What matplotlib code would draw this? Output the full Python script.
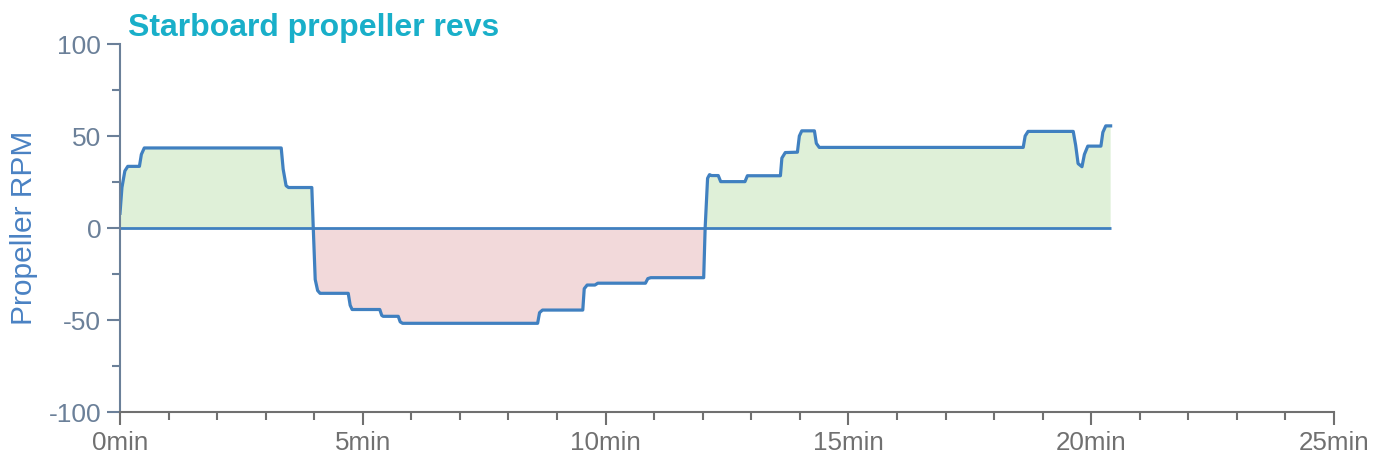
import matplotlib
matplotlib.use("Agg")
import matplotlib.pyplot as plt
import numpy as np
from matplotlib.ticker import MultipleLocator, FuncFormatter

plt.rcParams['font.family'] = ['Liberation Sans', 'DejaVu Sans']

title = "Starboard propeller revs"
ylabel = "Propeller RPM"

times = [0.0, 0.04, 0.10, 0.16, 0.40, 0.44, 0.50, 3.32, 3.36, 3.42, 3.47, 3.95,
         3.98, 4.02, 4.07, 4.12, 4.70, 4.74, 4.78, 5.35, 5.39, 5.42, 5.73, 5.77,
         5.82, 8.60, 8.64, 8.70, 9.53, 9.56, 9.62, 9.78, 9.84, 10.82, 10.87, 10.93,
         12.02, 12.05, 12.10, 12.14, 12.18, 12.32, 12.37, 12.87, 12.92, 13.60, 13.63,
         13.70, 13.95, 13.99, 14.04, 14.30, 14.34, 14.40, 18.60, 18.64, 18.70, 19.63,
         19.68, 19.73, 19.81, 19.86, 19.93, 20.20, 20.24, 20.30, 20.40]
rpm = [8, 22, 31, 33.5, 33.5, 40, 43.5, 43.5, 32, 23, 22, 22,
       0, -28, -34, -35.5, -35.5, -42, -44.3, -44.3, -47.5, -48, -48, -51,
       -51.8, -51.8, -46, -44.6, -44.6, -33, -31, -31, -30, -30, -27.5, -27,
       -27, 0, 27, 29, 28.5, 28.5, 25.2, 25.2, 28.4, 28.4, 38,
       41, 41.2, 50, 52.8, 52.8, 46, 43.8, 43.8, 50, 52.5, 52.5,
       45, 35, 33.3, 40, 44.5, 44.5, 52, 55.5, 55.5]

t = np.array(times)
v = np.array(rpm)

fig = plt.figure(figsize=(13.84, 4.63), dpi=100)
ax = fig.add_axes([120/1384, 1-412/463, (1334-120)/1384, (412-44)/463])

line_c = '#4080c0'
ax.fill_between(t, v, 0, where=v >= 0, interpolate=True, color='#dff0d8', lw=0)
ax.fill_between(t, v, 0, where=v <= 0, interpolate=True, color='#f2d9da', lw=0)
ax.plot([t[0], t[-1]], [0, 0], color=line_c, lw=2.0, solid_capstyle='butt')
ax.plot(t, v, color=line_c, lw=2.3, solid_joinstyle='round')

ax.set_xlim(0, 25)
ax.set_ylim(-100, 100)
ax.xaxis.set_major_locator(MultipleLocator(5))
ax.xaxis.set_minor_locator(MultipleLocator(1))
ax.yaxis.set_major_locator(MultipleLocator(50))
ax.yaxis.set_minor_locator(MultipleLocator(25))
ax.xaxis.set_major_formatter(FuncFormatter(lambda x, p: f"{int(x)}min"))
ax.yaxis.set_major_formatter(FuncFormatter(lambda y, p: f"{int(y)}"))

for s in ['top', 'right']:
    ax.spines[s].set_visible(False)
ycol = '#6b8099'
xcol = '#707070'
ax.spines['left'].set_color(ycol)
ax.spines['left'].set_linewidth(1.5)
ax.spines['bottom'].set_color(xcol)
ax.spines['bottom'].set_linewidth(1.5)
ax.tick_params(axis='y', which='major', length=9.5, width=1.5, color=ycol, labelcolor=ycol, labelsize=19, pad=4)
ax.tick_params(axis='y', which='minor', length=6, width=1.5, color=ycol)
ax.tick_params(axis='x', which='major', length=9.5, width=1.5, color=xcol, labelcolor=xcol, labelsize=18.7, pad=4)
ax.tick_params(axis='x', which='minor', length=6, width=1.5, color=xcol)

ax.set_ylabel(ylabel, color='#4a82c3', fontsize=21.5, labelpad=8)
fig.text(128/1384, 1-36/463, title, color='#19afc9', fontsize=23, fontweight='bold', va='baseline', ha='left')

fig.savefig('out.png', dpi=100)
